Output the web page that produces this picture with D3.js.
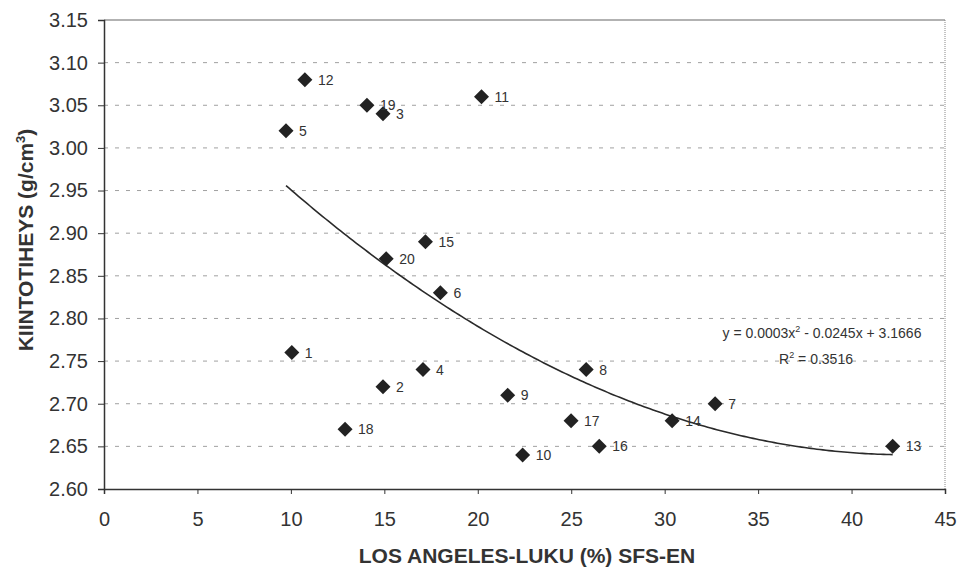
<!DOCTYPE html>
<html><head><meta charset="utf-8">
<script src="https://cdn.jsdelivr.net/npm/d3@7"></script>
<style>
body{margin:0;background:#fff;}
svg{display:block;font-family:"Liberation Sans",Arial,sans-serif;}
</style></head>
<body><svg id="c" width="961" height="569"></svg>
<script>
const ids = [12, 19, 3, 11, 5, 15, 20, 6, 1, 4, 2, 9, 8, 17, 18, 10, 16, 14, 7, 13];
const laValues = [10.75, 14.07, 14.93, 20.2, 9.74, 17.2, 15.1, 18.0, 10.05, 17.07, 14.93, 21.6, 25.8, 24.99, 12.9, 22.4, 26.5, 30.4, 32.7, 42.2];
const density = [3.08, 3.05, 3.04, 3.06, 3.02, 2.89, 2.87, 2.83, 2.76, 2.74, 2.72, 2.71, 2.74, 2.68, 2.67, 2.64, 2.65, 2.68, 2.70, 2.65];
const xTicks = [0, 5, 10, 15, 20, 25, 30, 35, 40, 45];
const yTicks = [2.60, 2.65, 2.70, 2.75, 2.80, 2.85, 2.90, 2.95, 3.00, 3.05, 3.10, 3.15];
const equationText = ["y = 0.0003x", "2", " - 0.0245x + 3.1666"];
const r2Text = "0.3516";

const svg = d3.select("#c");
const m = {l:104, r:945, t:20, b:489};
const x = d3.scaleLinear().domain([0,45]).range([m.l, m.r]);
const y = d3.scaleLinear().domain([2.60,3.15]).range([m.b, m.t]);

// least-squares quadratic fit (as the original trendline)
function polyfit2(xs, ys){
  const n = xs.length;
  let s = [0,0,0,0,0], t = [0,0,0];
  for(let i=0;i<n;i++){
    const xi = xs[i], yi = ys[i];
    for(let k=0;k<5;k++) s[k]+=Math.pow(xi,k);
    for(let k=0;k<3;k++) t[k]+=yi*Math.pow(xi,k);
  }
  const A = [[s[0],s[1],s[2],t[0]],[s[1],s[2],s[3],t[1]],[s[2],s[3],s[4],t[2]]];
  for(let c=0;c<3;c++){
    for(let r=c+1;r<3;r++){
      const f = A[r][c]/A[c][c];
      for(let k=c;k<4;k++) A[r][k]-=f*A[c][k];
    }
  }
  const sol=[0,0,0];
  for(let r=2;r>=0;r--){
    let v=A[r][3];
    for(let k=r+1;k<3;k++) v-=A[r][k]*sol[k];
    sol[r]=v/A[r][r];
  }
  return sol; // c0, c1, c2
}
const coef = polyfit2(laValues, density);
const f = v => coef[0] + coef[1]*v + coef[2]*v*v;

// gridlines
svg.append("g").selectAll("line").data(yTicks.filter(v=>v>2.6 && v<3.15)).join("line")
  .attr("x1", m.l).attr("x2", m.r).attr("y1", d=>y(d)).attr("y2", d=>y(d))
  .attr("stroke","#a0a0a0").attr("stroke-width",1).attr("stroke-dasharray","4,7");
svg.append("line").attr("x1",m.l).attr("x2",m.r).attr("y1",y(3.15)).attr("y2",y(3.15)).attr("stroke","#666").attr("stroke-width",1.2);
svg.append("line").attr("x1",m.r).attr("x2",m.r).attr("y1",m.t).attr("y2",m.b).attr("stroke","#888").attr("stroke-dasharray","1,1");

// axes
const xAxis = d3.axisBottom(x).tickValues(xTicks).tickSize(5).tickPadding(18).tickFormat(d3.format("d"));
const gx = svg.append("g").attr("transform",`translate(0,${m.b})`).call(xAxis);
const yAxis = d3.axisLeft(y).tickValues(yTicks).tickSize(6).tickPadding(10).tickFormat(d3.format(".2f"));
const gy = svg.append("g").attr("transform",`translate(${m.l},0)`).call(yAxis);
[gx,gy].forEach(g=>{
  g.select(".domain").attr("stroke","#333").attr("stroke-width",1.5);
  g.selectAll(".tick line").attr("stroke","#333");
  g.selectAll("text").attr("font-size",20).attr("fill","#333").attr("font-family","'Liberation Sans',Arial,sans-serif");
});

// trendline
const xmin = d3.min(laValues), xmax = d3.max(laValues);
const tl = d3.range(0, 201).map(i => xmin + (xmax-xmin)*i/200);
svg.append("path").datum(tl)
  .attr("d", d3.line().x(d=>x(d)).y(d=>y(f(d))))
  .attr("fill","none").attr("stroke","#2a2a2a").attr("stroke-width",1.6);

// points
const pts = ids.map((id,i)=>({id, lx: laValues[i], d: density[i]}));
svg.append("g").selectAll("path").data(pts).join("path")
  .attr("d","M0,-7.5L7.5,0L0,7.5L-7.5,0Z")
  .attr("transform", d=>`translate(${x(d.lx)},${y(d.d)})`)
  .attr("fill","#222");
svg.append("g").selectAll("text").data(pts).join("text")
  .attr("x", d=>x(d.lx)+13).attr("y", d=>y(d.d)+5)
  .attr("font-size",14).attr("fill","#333").text(d=>d.id);

// equation
const eq = svg.append("text").attr("x", 822).attr("y", 338).attr("text-anchor","middle").attr("font-size",14).attr("fill","#333");
eq.append("tspan").text(equationText[0]);
eq.append("tspan").attr("dy",-6).attr("font-size",9).text(equationText[1]);
eq.append("tspan").attr("dy",6).text(equationText[2]);
const r2 = svg.append("text").attr("x", 816).attr("y", 364).attr("text-anchor","middle").attr("font-size",14).attr("fill","#333");
r2.append("tspan").text("R");
r2.append("tspan").attr("dy",-6).attr("font-size",9).text("2");
r2.append("tspan").attr("dy",6).text(" = " + r2Text);

// axis titles
svg.append("text").attr("x", 527).attr("y", 563).attr("text-anchor","middle")
  .attr("font-size",21).attr("font-weight","bold").attr("fill","#333").text("LOS ANGELES-LUKU (%) SFS-EN");
const yt = svg.append("text").attr("transform","translate(33,240) rotate(-90)").attr("text-anchor","middle")
  .attr("font-size",21).attr("font-weight","bold").attr("fill","#333");
yt.append("tspan").text("KIINTOTIHEYS (g/cm");
yt.append("tspan").attr("dy",-8).attr("font-size",13).text("3");
yt.append("tspan").attr("dy",8).text(")");
</script></body></html>
